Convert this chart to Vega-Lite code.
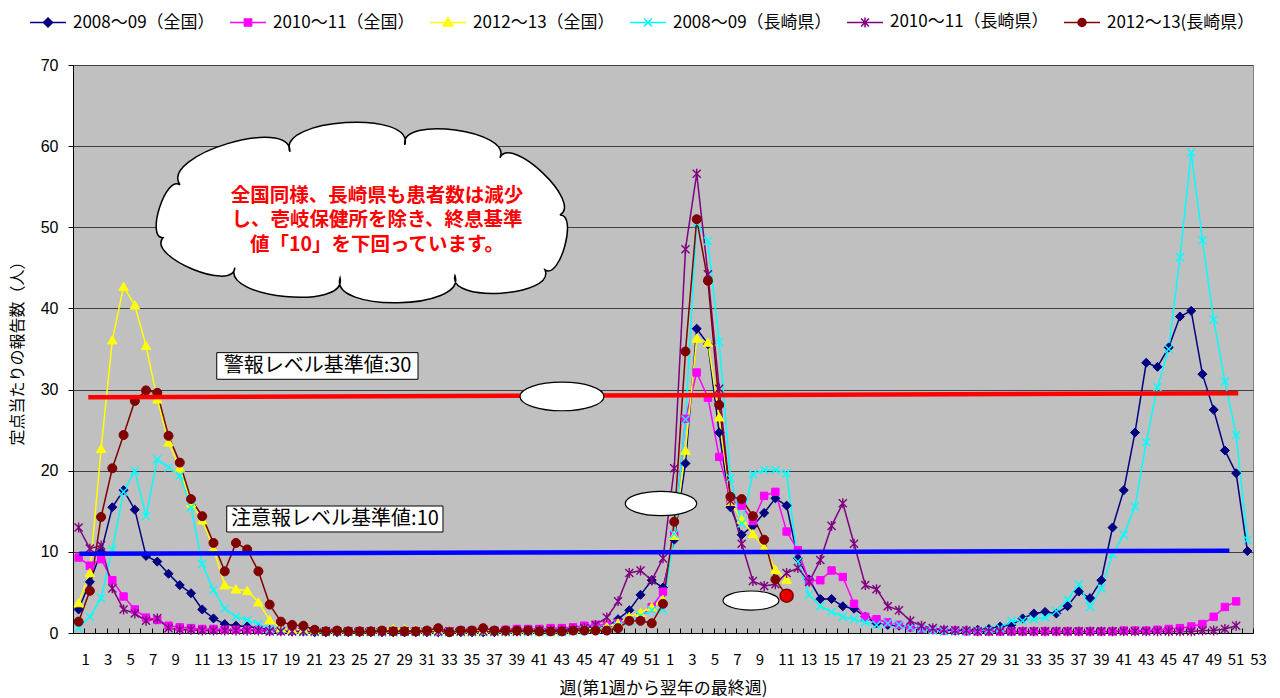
{
"$schema":"https://vega.github.io/schema/vega-lite/v6.json",
"width":1180,"height":568,
"autosize":{"type":"none"},
"padding":{"left":73,"top":65,"right":27,"bottom":65},
"background":"#FFFFFF",
"config":{"view":{"fill":"#C0C0C0","stroke":"#808080","strokeWidth":1},"font":"Noto Sans CJK JP"},
"datasets":{
"series":[{"s":"A","name":"2008～09（全国）"},{"s":"B","name":"2010～11（全国）"},{"s":"C","name":"2012～13（全国）"},{"s":"D","name":"2008～09（長崎県）"},{"s":"E","name":"2010～11（長崎県）"},{"s":"F","name":"2012～13(長崎県）"}],
"flu":[
{"s":"A","i":1,"v":2.9},{"s":"A","i":2,"v":6.3},{"s":"A","i":3,"v":10.0},{"s":"A","i":4,"v":15.5},{"s":"A","i":5,"v":17.6},{"s":"A","i":6,"v":15.2},{"s":"A","i":7,"v":9.5},{"s":"A","i":8,"v":8.8},{"s":"A","i":9,"v":7.3},{"s":"A","i":10,"v":5.9},{"s":"A","i":11,"v":4.9},{"s":"A","i":12,"v":2.9},{"s":"A","i":13,"v":1.8},{"s":"A","i":14,"v":1.1},{"s":"A","i":15,"v":0.9},{"s":"A","i":16,"v":0.8},{"s":"A","i":17,"v":0.6},{"s":"A","i":18,"v":0.4},{"s":"A","i":19,"v":0.3},{"s":"A","i":20,"v":0.2},{"s":"A","i":21,"v":0.2},{"s":"A","i":22,"v":0.1},{"s":"A","i":23,"v":0.1},{"s":"A","i":24,"v":0.1},{"s":"A","i":25,"v":0.1},{"s":"A","i":26,"v":0.1},{"s":"A","i":27,"v":0.1},{"s":"A","i":28,"v":0.1},{"s":"A","i":29,"v":0.1},{"s":"A","i":30,"v":0.1},{"s":"A","i":31,"v":0.1},{"s":"A","i":32,"v":0.1},{"s":"A","i":33,"v":0.1},{"s":"A","i":34,"v":0.1},{"s":"A","i":35,"v":0.1},{"s":"A","i":36,"v":0.1},{"s":"A","i":37,"v":0.1},{"s":"A","i":38,"v":0.1},{"s":"A","i":39,"v":0.2},{"s":"A","i":40,"v":0.2},{"s":"A","i":41,"v":0.2},{"s":"A","i":42,"v":0.3},{"s":"A","i":43,"v":0.3},{"s":"A","i":44,"v":0.4},{"s":"A","i":45,"v":0.5},{"s":"A","i":46,"v":0.6},{"s":"A","i":47,"v":0.7},{"s":"A","i":48,"v":0.8},{"s":"A","i":49,"v":1.7},{"s":"A","i":50,"v":2.8},{"s":"A","i":51,"v":4.7},{"s":"A","i":52,"v":6.5},{"s":"A","i":53,"v":5.6},{"s":"A","i":54,"v":11.5},{"s":"A","i":55,"v":20.9},{"s":"A","i":56,"v":37.5},{"s":"A","i":57,"v":35.6},{"s":"A","i":58,"v":24.7},{"s":"A","i":59,"v":15.5},{"s":"A","i":60,"v":12.1},{"s":"A","i":61,"v":13.2},{"s":"A","i":62,"v":14.8},{"s":"A","i":63,"v":16.6},{"s":"A","i":64,"v":15.7},{"s":"A","i":65,"v":9.2},{"s":"A","i":66,"v":6.6},{"s":"A","i":67,"v":4.2},{"s":"A","i":68,"v":4.2},{"s":"A","i":69,"v":3.3},{"s":"A","i":70,"v":3.0},{"s":"A","i":71,"v":2.0},{"s":"A","i":72,"v":1.2},{"s":"A","i":73,"v":1.0},{"s":"A","i":74,"v":0.9},{"s":"A","i":75,"v":0.7},{"s":"A","i":76,"v":0.5},{"s":"A","i":77,"v":0.4},{"s":"A","i":78,"v":0.3},{"s":"A","i":79,"v":0.3},{"s":"A","i":80,"v":0.3},{"s":"A","i":81,"v":0.4},{"s":"A","i":82,"v":0.5},{"s":"A","i":83,"v":0.8},{"s":"A","i":84,"v":1.0},{"s":"A","i":85,"v":1.8},{"s":"A","i":86,"v":2.4},{"s":"A","i":87,"v":2.6},{"s":"A","i":88,"v":2.4},{"s":"A","i":89,"v":3.3},{"s":"A","i":90,"v":5.1},{"s":"A","i":91,"v":4.3},{"s":"A","i":92,"v":6.5},{"s":"A","i":93,"v":13.0},{"s":"A","i":94,"v":17.6},{"s":"A","i":95,"v":24.7},{"s":"A","i":96,"v":33.3},{"s":"A","i":97,"v":32.8},{"s":"A","i":98,"v":35.2},{"s":"A","i":99,"v":39.0},{"s":"A","i":100,"v":39.7},{"s":"A","i":101,"v":31.9},{"s":"A","i":102,"v":27.5},{"s":"A","i":103,"v":22.5},{"s":"A","i":104,"v":19.7},{"s":"A","i":105,"v":10.1},
{"s":"B","i":1,"v":9.3},{"s":"B","i":2,"v":8.3},{"s":"B","i":3,"v":9.1},{"s":"B","i":4,"v":6.5},{"s":"B","i":5,"v":4.5},{"s":"B","i":6,"v":2.9},{"s":"B","i":7,"v":1.9},{"s":"B","i":8,"v":1.6},{"s":"B","i":9,"v":0.9},{"s":"B","i":10,"v":0.7},{"s":"B","i":11,"v":0.6},{"s":"B","i":12,"v":0.5},{"s":"B","i":13,"v":0.5},{"s":"B","i":14,"v":0.4},{"s":"B","i":15,"v":0.4},{"s":"B","i":16,"v":0.4},{"s":"B","i":17,"v":0.4},{"s":"B","i":18,"v":0.3},{"s":"B","i":19,"v":0.3},{"s":"B","i":20,"v":0.3},{"s":"B","i":21,"v":0.3},{"s":"B","i":22,"v":0.3},{"s":"B","i":23,"v":0.2},{"s":"B","i":24,"v":0.2},{"s":"B","i":25,"v":0.2},{"s":"B","i":26,"v":0.2},{"s":"B","i":27,"v":0.2},{"s":"B","i":28,"v":0.2},{"s":"B","i":29,"v":0.2},{"s":"B","i":30,"v":0.2},{"s":"B","i":31,"v":0.2},{"s":"B","i":32,"v":0.2},{"s":"B","i":33,"v":0.2},{"s":"B","i":34,"v":0.2},{"s":"B","i":35,"v":0.3},{"s":"B","i":36,"v":0.3},{"s":"B","i":37,"v":0.3},{"s":"B","i":38,"v":0.3},{"s":"B","i":39,"v":0.4},{"s":"B","i":40,"v":0.5},{"s":"B","i":41,"v":0.5},{"s":"B","i":42,"v":0.5},{"s":"B","i":43,"v":0.6},{"s":"B","i":44,"v":0.6},{"s":"B","i":45,"v":0.7},{"s":"B","i":46,"v":0.9},{"s":"B","i":47,"v":1.0},{"s":"B","i":48,"v":1.0},{"s":"B","i":49,"v":1.2},{"s":"B","i":50,"v":1.5},{"s":"B","i":51,"v":2.0},{"s":"B","i":52,"v":3.2},{"s":"B","i":53,"v":5.1},{"s":"B","i":54,"v":12.1},{"s":"B","i":55,"v":26.4},{"s":"B","i":56,"v":32.1},{"s":"B","i":57,"v":29.0},{"s":"B","i":58,"v":21.7},{"s":"B","i":59,"v":16.4},{"s":"B","i":60,"v":15.7},{"s":"B","i":61,"v":13.8},{"s":"B","i":62,"v":16.9},{"s":"B","i":63,"v":17.4},{"s":"B","i":64,"v":12.5},{"s":"B","i":65,"v":10.2},{"s":"B","i":66,"v":6.4},{"s":"B","i":67,"v":6.5},{"s":"B","i":68,"v":7.7},{"s":"B","i":69,"v":6.9},{"s":"B","i":70,"v":3.6},{"s":"B","i":71,"v":2.0},{"s":"B","i":72,"v":1.7},{"s":"B","i":73,"v":1.3},{"s":"B","i":74,"v":1.0},{"s":"B","i":75,"v":0.7},{"s":"B","i":76,"v":0.5},{"s":"B","i":77,"v":0.4},{"s":"B","i":78,"v":0.3},{"s":"B","i":79,"v":0.3},{"s":"B","i":80,"v":0.2},{"s":"B","i":81,"v":0.2},{"s":"B","i":82,"v":0.2},{"s":"B","i":83,"v":0.2},{"s":"B","i":84,"v":0.2},{"s":"B","i":85,"v":0.2},{"s":"B","i":86,"v":0.2},{"s":"B","i":87,"v":0.2},{"s":"B","i":88,"v":0.2},{"s":"B","i":89,"v":0.2},{"s":"B","i":90,"v":0.2},{"s":"B","i":91,"v":0.2},{"s":"B","i":92,"v":0.2},{"s":"B","i":93,"v":0.2},{"s":"B","i":94,"v":0.3},{"s":"B","i":95,"v":0.3},{"s":"B","i":96,"v":0.3},{"s":"B","i":97,"v":0.4},{"s":"B","i":98,"v":0.5},{"s":"B","i":99,"v":0.6},{"s":"B","i":100,"v":0.8},{"s":"B","i":101,"v":1.1},{"s":"B","i":102,"v":2.0},{"s":"B","i":103,"v":3.2},{"s":"B","i":104,"v":3.9},
{"s":"C","i":1,"v":3.7},{"s":"C","i":2,"v":7.4},{"s":"C","i":3,"v":22.7},{"s":"C","i":4,"v":36.1},{"s":"C","i":5,"v":42.7},{"s":"C","i":6,"v":40.4},{"s":"C","i":7,"v":35.4},{"s":"C","i":8,"v":28.8},{"s":"C","i":9,"v":23.5},{"s":"C","i":10,"v":20.3},{"s":"C","i":11,"v":16.0},{"s":"C","i":12,"v":13.9},{"s":"C","i":13,"v":10.4},{"s":"C","i":14,"v":5.9},{"s":"C","i":15,"v":5.4},{"s":"C","i":16,"v":5.2},{"s":"C","i":17,"v":3.8},{"s":"C","i":18,"v":1.6},{"s":"C","i":19,"v":0.6},{"s":"C","i":20,"v":0.4},{"s":"C","i":21,"v":0.4},{"s":"C","i":22,"v":0.3},{"s":"C","i":23,"v":0.3},{"s":"C","i":24,"v":0.3},{"s":"C","i":25,"v":0.3},{"s":"C","i":26,"v":0.3},{"s":"C","i":27,"v":0.3},{"s":"C","i":28,"v":0.4},{"s":"C","i":29,"v":0.5},{"s":"C","i":30,"v":0.5},{"s":"C","i":31,"v":0.4},{"s":"C","i":32,"v":0.3},{"s":"C","i":33,"v":0.3},{"s":"C","i":34,"v":0.3},{"s":"C","i":35,"v":0.3},{"s":"C","i":36,"v":0.3},{"s":"C","i":37,"v":0.3},{"s":"C","i":38,"v":0.3},{"s":"C","i":39,"v":0.3},{"s":"C","i":40,"v":0.3},{"s":"C","i":41,"v":0.3},{"s":"C","i":42,"v":0.3},{"s":"C","i":43,"v":0.3},{"s":"C","i":44,"v":0.3},{"s":"C","i":45,"v":0.4},{"s":"C","i":46,"v":0.5},{"s":"C","i":47,"v":0.6},{"s":"C","i":48,"v":0.8},{"s":"C","i":49,"v":1.2},{"s":"C","i":50,"v":2.0},{"s":"C","i":51,"v":2.5},{"s":"C","i":52,"v":3.2},{"s":"C","i":53,"v":4.1},{"s":"C","i":54,"v":12.0},{"s":"C","i":55,"v":22.5},{"s":"C","i":56,"v":36.3},{"s":"C","i":57,"v":35.8},{"s":"C","i":58,"v":26.6},{"s":"C","i":59,"v":16.2},{"s":"C","i":60,"v":14.0},{"s":"C","i":61,"v":12.2},{"s":"C","i":62,"v":10.5},{"s":"C","i":63,"v":7.8},{"s":"C","i":64,"v":6.6},
{"s":"D","i":1,"v":0.6},{"s":"D","i":2,"v":2.0},{"s":"D","i":3,"v":4.3},{"s":"D","i":4,"v":10.3},{"s":"D","i":5,"v":17.4},{"s":"D","i":6,"v":20.0},{"s":"D","i":7,"v":14.4},{"s":"D","i":8,"v":21.4},{"s":"D","i":9,"v":20.4},{"s":"D","i":10,"v":19.4},{"s":"D","i":11,"v":15.5},{"s":"D","i":12,"v":8.5},{"s":"D","i":13,"v":5.3},{"s":"D","i":14,"v":3.0},{"s":"D","i":15,"v":2.0},{"s":"D","i":16,"v":1.6},{"s":"D","i":17,"v":1.1},{"s":"D","i":18,"v":0.5},{"s":"D","i":19,"v":0.3},{"s":"D","i":20,"v":0.2},{"s":"D","i":21,"v":0.1},{"s":"D","i":22,"v":0.1},{"s":"D","i":23,"v":0.1},{"s":"D","i":24,"v":0.1},{"s":"D","i":25,"v":0.1},{"s":"D","i":26,"v":0.1},{"s":"D","i":27,"v":0.1},{"s":"D","i":28,"v":0.1},{"s":"D","i":29,"v":0.1},{"s":"D","i":30,"v":0.1},{"s":"D","i":31,"v":0.1},{"s":"D","i":32,"v":0.1},{"s":"D","i":33,"v":0.1},{"s":"D","i":34,"v":0.1},{"s":"D","i":35,"v":0.1},{"s":"D","i":36,"v":0.1},{"s":"D","i":37,"v":0.1},{"s":"D","i":38,"v":0.1},{"s":"D","i":39,"v":0.1},{"s":"D","i":40,"v":0.1},{"s":"D","i":41,"v":0.1},{"s":"D","i":42,"v":0.1},{"s":"D","i":43,"v":0.1},{"s":"D","i":44,"v":0.1},{"s":"D","i":45,"v":0.2},{"s":"D","i":46,"v":0.3},{"s":"D","i":47,"v":0.4},{"s":"D","i":48,"v":0.5},{"s":"D","i":49,"v":0.9},{"s":"D","i":50,"v":1.4},{"s":"D","i":51,"v":2.1},{"s":"D","i":52,"v":2.8},{"s":"D","i":53,"v":2.9},{"s":"D","i":54,"v":12.2},{"s":"D","i":55,"v":26.3},{"s":"D","i":56,"v":50.5},{"s":"D","i":57,"v":48.3},{"s":"D","i":58,"v":35.9},{"s":"D","i":59,"v":19.1},{"s":"D","i":60,"v":13.5},{"s":"D","i":61,"v":19.6},{"s":"D","i":62,"v":20.1},{"s":"D","i":63,"v":20.1},{"s":"D","i":64,"v":19.7},{"s":"D","i":65,"v":8.8},{"s":"D","i":66,"v":4.7},{"s":"D","i":67,"v":3.3},{"s":"D","i":68,"v":2.6},{"s":"D","i":69,"v":2.0},{"s":"D","i":70,"v":1.7},{"s":"D","i":71,"v":1.3},{"s":"D","i":72,"v":1.0},{"s":"D","i":73,"v":1.2},{"s":"D","i":74,"v":1.0},{"s":"D","i":75,"v":0.7},{"s":"D","i":76,"v":0.5},{"s":"D","i":77,"v":0.3},{"s":"D","i":78,"v":0.2},{"s":"D","i":79,"v":0.2},{"s":"D","i":80,"v":0.2},{"s":"D","i":81,"v":0.3},{"s":"D","i":82,"v":0.4},{"s":"D","i":83,"v":0.6},{"s":"D","i":84,"v":1.5},{"s":"D","i":85,"v":1.5},{"s":"D","i":86,"v":1.7},{"s":"D","i":87,"v":1.9},{"s":"D","i":88,"v":2.7},{"s":"D","i":89,"v":4.1},{"s":"D","i":90,"v":6.0},{"s":"D","i":91,"v":3.2},{"s":"D","i":92,"v":5.5},{"s":"D","i":93,"v":9.7},{"s":"D","i":94,"v":12.1},{"s":"D","i":95,"v":15.6},{"s":"D","i":96,"v":23.5},{"s":"D","i":97,"v":30.3},{"s":"D","i":98,"v":35.0},{"s":"D","i":99,"v":46.3},{"s":"D","i":100,"v":59.2},{"s":"D","i":101,"v":48.4},{"s":"D","i":102,"v":38.6},{"s":"D","i":103,"v":31.0},{"s":"D","i":104,"v":24.4},{"s":"D","i":105,"v":11.5},
{"s":"E","i":1,"v":13.0},{"s":"E","i":2,"v":10.4},{"s":"E","i":3,"v":10.8},{"s":"E","i":4,"v":5.5},{"s":"E","i":5,"v":2.9},{"s":"E","i":6,"v":2.4},{"s":"E","i":7,"v":1.5},{"s":"E","i":8,"v":1.8},{"s":"E","i":9,"v":0.6},{"s":"E","i":10,"v":0.4},{"s":"E","i":11,"v":0.4},{"s":"E","i":12,"v":0.3},{"s":"E","i":13,"v":0.3},{"s":"E","i":14,"v":0.3},{"s":"E","i":15,"v":0.3},{"s":"E","i":16,"v":0.3},{"s":"E","i":17,"v":0.3},{"s":"E","i":18,"v":0.2},{"s":"E","i":19,"v":0.2},{"s":"E","i":20,"v":0.2},{"s":"E","i":21,"v":0.2},{"s":"E","i":22,"v":0.2},{"s":"E","i":23,"v":0.2},{"s":"E","i":24,"v":0.2},{"s":"E","i":25,"v":0.2},{"s":"E","i":26,"v":0.2},{"s":"E","i":27,"v":0.2},{"s":"E","i":28,"v":0.2},{"s":"E","i":29,"v":0.2},{"s":"E","i":30,"v":0.2},{"s":"E","i":31,"v":0.2},{"s":"E","i":32,"v":0.2},{"s":"E","i":33,"v":0.2},{"s":"E","i":34,"v":0.2},{"s":"E","i":35,"v":0.2},{"s":"E","i":36,"v":0.2},{"s":"E","i":37,"v":0.2},{"s":"E","i":38,"v":0.2},{"s":"E","i":39,"v":0.2},{"s":"E","i":40,"v":0.2},{"s":"E","i":41,"v":0.3},{"s":"E","i":42,"v":0.3},{"s":"E","i":43,"v":0.3},{"s":"E","i":44,"v":0.3},{"s":"E","i":45,"v":0.4},{"s":"E","i":46,"v":0.6},{"s":"E","i":47,"v":1.0},{"s":"E","i":48,"v":1.9},{"s":"E","i":49,"v":3.9},{"s":"E","i":50,"v":7.4},{"s":"E","i":51,"v":7.7},{"s":"E","i":52,"v":6.5},{"s":"E","i":53,"v":9.2},{"s":"E","i":54,"v":20.3},{"s":"E","i":55,"v":47.3},{"s":"E","i":56,"v":56.6},{"s":"E","i":57,"v":44.2},{"s":"E","i":58,"v":30.1},{"s":"E","i":59,"v":16.3},{"s":"E","i":60,"v":11.0},{"s":"E","i":61,"v":6.4},{"s":"E","i":62,"v":5.8},{"s":"E","i":63,"v":6.0},{"s":"E","i":64,"v":7.4},{"s":"E","i":65,"v":8.0},{"s":"E","i":66,"v":6.3},{"s":"E","i":67,"v":9.0},{"s":"E","i":68,"v":13.2},{"s":"E","i":69,"v":16.0},{"s":"E","i":70,"v":11.0},{"s":"E","i":71,"v":5.9},{"s":"E","i":72,"v":5.4},{"s":"E","i":73,"v":3.3},{"s":"E","i":74,"v":2.8},{"s":"E","i":75,"v":1.5},{"s":"E","i":76,"v":0.9},{"s":"E","i":77,"v":0.6},{"s":"E","i":78,"v":0.4},{"s":"E","i":79,"v":0.3},{"s":"E","i":80,"v":0.3},{"s":"E","i":81,"v":0.2},{"s":"E","i":82,"v":0.2},{"s":"E","i":83,"v":0.2},{"s":"E","i":84,"v":0.2},{"s":"E","i":85,"v":0.2},{"s":"E","i":86,"v":0.2},{"s":"E","i":87,"v":0.2},{"s":"E","i":88,"v":0.2},{"s":"E","i":89,"v":0.2},{"s":"E","i":90,"v":0.2},{"s":"E","i":91,"v":0.2},{"s":"E","i":92,"v":0.2},{"s":"E","i":93,"v":0.2},{"s":"E","i":94,"v":0.2},{"s":"E","i":95,"v":0.2},{"s":"E","i":96,"v":0.2},{"s":"E","i":97,"v":0.2},{"s":"E","i":98,"v":0.2},{"s":"E","i":99,"v":0.2},{"s":"E","i":100,"v":0.2},{"s":"E","i":101,"v":0.3},{"s":"E","i":102,"v":0.3},{"s":"E","i":103,"v":0.5},{"s":"E","i":104,"v":0.9},
{"s":"F","i":1,"v":1.4},{"s":"F","i":2,"v":5.2},{"s":"F","i":3,"v":14.3},{"s":"F","i":4,"v":20.3},{"s":"F","i":5,"v":24.4},{"s":"F","i":6,"v":28.6},{"s":"F","i":7,"v":29.9},{"s":"F","i":8,"v":29.6},{"s":"F","i":9,"v":24.3},{"s":"F","i":10,"v":21.0},{"s":"F","i":11,"v":16.5},{"s":"F","i":12,"v":14.4},{"s":"F","i":13,"v":11.1},{"s":"F","i":14,"v":7.6},{"s":"F","i":15,"v":11.1},{"s":"F","i":16,"v":10.3},{"s":"F","i":17,"v":7.6},{"s":"F","i":18,"v":3.5},{"s":"F","i":19,"v":1.4},{"s":"F","i":20,"v":1.0},{"s":"F","i":21,"v":0.9},{"s":"F","i":22,"v":0.4},{"s":"F","i":23,"v":0.2},{"s":"F","i":24,"v":0.3},{"s":"F","i":25,"v":0.2},{"s":"F","i":26,"v":0.2},{"s":"F","i":27,"v":0.2},{"s":"F","i":28,"v":0.3},{"s":"F","i":29,"v":0.2},{"s":"F","i":30,"v":0.2},{"s":"F","i":31,"v":0.2},{"s":"F","i":32,"v":0.3},{"s":"F","i":33,"v":0.6},{"s":"F","i":34,"v":0.1},{"s":"F","i":35,"v":0.3},{"s":"F","i":36,"v":0.3},{"s":"F","i":37,"v":0.6},{"s":"F","i":38,"v":0.3},{"s":"F","i":39,"v":0.3},{"s":"F","i":40,"v":0.3},{"s":"F","i":41,"v":0.3},{"s":"F","i":42,"v":0.2},{"s":"F","i":43,"v":0.2},{"s":"F","i":44,"v":0.2},{"s":"F","i":45,"v":0.3},{"s":"F","i":46,"v":0.3},{"s":"F","i":47,"v":0.3},{"s":"F","i":48,"v":0.3},{"s":"F","i":49,"v":0.6},{"s":"F","i":50,"v":1.5},{"s":"F","i":51,"v":1.5},{"s":"F","i":52,"v":1.2},{"s":"F","i":53,"v":3.6},{"s":"F","i":54,"v":13.7},{"s":"F","i":55,"v":34.7},{"s":"F","i":56,"v":51.0},{"s":"F","i":57,"v":43.4},{"s":"F","i":58,"v":28.1},{"s":"F","i":59,"v":16.8},{"s":"F","i":60,"v":16.5},{"s":"F","i":61,"v":14.4},{"s":"F","i":62,"v":11.5},{"s":"F","i":63,"v":6.6},{"s":"F","i":64,"v":4.6}
]
},
"encoding":{
"x":{"field":"i","type":"quantitative","scale":{"domain":[0.5,105.5],"nice":false,"zero":false},
"axis":{"values":[0.5,1.5,2.5,3.5,4.5,5.5,6.5,7.5,8.5,9.5,10.5,11.5,12.5,13.5,14.5,15.5,16.5,17.5,18.5,19.5,20.5,21.5,22.5,23.5,24.5,25.5,26.5,27.5,28.5,29.5,30.5,31.5,32.5,33.5,34.5,35.5,36.5,37.5,38.5,39.5,40.5,41.5,42.5,43.5,44.5,45.5,46.5,47.5,48.5,49.5,50.5,51.5,52.5,53.5,54.5,55.5,56.5,57.5,58.5,59.5,60.5,61.5,62.5,63.5,64.5,65.5,66.5,67.5,68.5,69.5,70.5,71.5,72.5,73.5,74.5,75.5,76.5,77.5,78.5,79.5,80.5,81.5,82.5,83.5,84.5,85.5,86.5,87.5,88.5,89.5,90.5,91.5,92.5,93.5,94.5,95.5,96.5,97.5,98.5,99.5,100.5,101.5,102.5,103.5,104.5,105.5],
"labelExpr":"(datum.value+0.5)%2==1 && datum.value<105 ? ((datum.value+0.5)<=52 ? (datum.value+0.5)+'' : (datum.value-51.5)+'') : ''",
"title":"週(第1週から翌年の最終週)","grid":false,"domainColor":"#000000","domainWidth":1,"tickColor":"#000000","tickSize":-5,"tickWidth":1,
"labelAlign":"left","labelOffset":8,"labelBaseline":"top","labelPadding":24,"labelOverlap":false,"labelFlush":false,"labelBound":false,
"labelFont":"Noto Sans CJK JP","labelFontSize":15,"labelColor":"#000000",
"titleFont":"Noto Sans CJK JP","titleFontSize":17,"titleFontWeight":"normal","titleColor":"#000000","titleY":55,"titleBaseline":"middle"}},
"y":{"field":"v","type":"quantitative","scale":{"domain":[0,70],"nice":false},
"axis":{"values":[0,10,20,30,40,50,60,70],"title":"定点当たりの報告数（人）","grid":true,"gridColor":"#404040","gridWidth":1,"domainColor":"#000000","tickColor":"#000000","tickSize":5,
"labelFont":"Liberation Sans","labelFontSize":16,"labelColor":"#000000","labelPadding":10,
"titleFont":"Noto Sans CJK JP","titleFontSize":16,"titleFontWeight":"normal","titleColor":"#000000","titleX":-56,"titleY":284,"titleAngle":270,"titleAlign":"center","titleBaseline":"middle"}}
},
"layer":[
{
"data":{"name":"flu"},
"transform":[{"lookup":"s","from":{"data":{"name":"series"},"key":"s","fields":["name"]}}],
"mark":{"type":"line","strokeWidth":1.5},
"encoding":{
"color":{"field":"name","type":"nominal",
"scale":{"domain":["2008～09（全国）","2010～11（全国）","2012～13（全国）","2008～09（長崎県）","2010～11（長崎県）","2012～13(長崎県）"],"range":["#000080","#FF00FF","#FFFF00","#00FFFF","#800080","#800000"]},
"legend":{"title":null,"orient":"none","legendX":-44,"legendY":-62,"direction":"horizontal","columns":6,"columnPadding":12,"padding":0,
"symbolSize":1296,"symbolStrokeWidth":1.5,"labelFont":"Noto Sans CJK JP","labelFontSize":17,"labelColor":"#000000","labelOffset":6,"labelLimit":400,
"encode":{"symbols":{"update":{
"shape":{"signal":"['M-1,0L1,0M0,-0.25L0.25,0L0,0.25L-0.25,0Z','M-1,0L1,0M-0.2,-0.2L0.2,-0.2L0.2,0.2L-0.2,0.2Z','M-1,0L1,0M0,-0.26L0.27,0.2L-0.27,0.2Z','M-1,0L1,0M-0.22,-0.22L0.22,0.22M-0.22,0.22L0.22,-0.22','M-1,0L1,0M-0.22,-0.22L0.22,0.22M-0.22,0.22L0.22,-0.22M0,-0.28L0,0.28','M-1,0L1,0M-0.22,0C-0.22,-0.12,-0.12,-0.22,0,-0.22C0.12,-0.22,0.22,-0.12,0.22,0C0.22,0.12,0.12,0.22,0,0.22C-0.12,0.22,-0.22,0.12,-0.22,0Z'][indexof(domain('color'), datum.value)]"},
"fill":{"signal":"scale('color', datum.value)"},
"stroke":{"signal":"scale('color', datum.value)"},
"opacity":{"value":1}}}}}}
}
},
{"data":{"name":"flu"},"transform":[{"filter":"datum.s==='A'"}],"mark":{"type":"point","shape":"M0,-0.95L0.95,0L0,0.95L-0.95,0Z","filled":true,"fill":"#000080","stroke":"#000080","strokeWidth":1,"size":90,"opacity":1}},
{"data":{"name":"flu"},"transform":[{"filter":"datum.s==='B'"}],"mark":{"type":"point","shape":"M-0.78,-0.78L0.78,-0.78L0.78,0.78L-0.78,0.78Z","filled":true,"fill":"#FF00FF","stroke":"#FF00FF","strokeWidth":1,"size":90,"opacity":1}},
{"data":{"name":"flu"},"transform":[{"filter":"datum.s==='C'"}],"mark":{"type":"point","shape":"M0,-0.95L1,0.8L-1,0.8Z","filled":true,"fill":"#FFFF00","stroke":"#FFFF00","strokeWidth":1,"size":90,"opacity":1}},
{"data":{"name":"flu"},"transform":[{"filter":"datum.s==='D'"}],"mark":{"type":"point","shape":"M-0.85,-0.85L0.85,0.85M-0.85,0.85L0.85,-0.85","filled":false,"stroke":"#00FFFF","strokeWidth":1.4,"size":90,"opacity":1}},
{"data":{"name":"flu"},"transform":[{"filter":"datum.s==='E'"}],"mark":{"type":"point","shape":"M-0.85,-0.85L0.85,0.85M-0.85,0.85L0.85,-0.85M0,-1.05L0,1.05","filled":false,"stroke":"#800080","strokeWidth":1.4,"size":90,"opacity":1}},
{"data":{"name":"flu"},"transform":[{"filter":"datum.s==='F'"}],"mark":{"type":"point","shape":"M-0.95,0C-0.95,-0.52,-0.52,-0.95,0,-0.95C0.52,-0.95,0.95,-0.52,0.95,0C0.95,0.52,0.52,0.95,0,0.95C-0.52,0.95,-0.95,0.52,-0.95,0Z","filled":true,"fill":"#800000","stroke":"#800000","strokeWidth":1,"size":90,"opacity":1}},
{"data":{"name":"flu"},"transform":[{"filter":"datum.s==='F' && datum.i===64"}],"mark":{"type":"point","shape":"circle","filled":true,"size":170,"fill":"#E60000","stroke":"#800000","strokeWidth":1.5,"opacity":1}},
{
"data":{"values":[{"i":1.86,"i2":104.19,"v":29.05,"v2":29.54}]},
"mark":{"type":"rule","color":"#FF0000","strokeWidth":4.5},
"encoding":{"x2":{"field":"i2"},"y2":{"field":"v2"}}
},
{
"data":{"values":[{"i":1.06,"i2":103.4,"v":9.77,"v2":10.14}]},
"mark":{"type":"rule","color":"#0000FF","strokeWidth":4.5},
"encoding":{"x2":{"field":"i2"},"y2":{"field":"v2"}}
},
{
"data":{"values":[{"i":13.29,"i2":31.2,"v":34.55,"v2":31.27},{"i":14.18,"i2":33.42,"v":15.65,"v2":12.45}]},
"mark":{"type":"rect","fill":"#FFFFFF","stroke":"#000000","strokeWidth":1},
"encoding":{"x2":{"field":"i2"},"y2":{"field":"v2"}}
},
{
"data":{"values":[{"i":22.26,"v":32.9,"t":"警報レベル基準値:30"},{"i":23.81,"v":13.99,"t":"注意報レベル基準値:10"}]},
"mark":{"type":"text","font":"Noto Sans CJK JP","fontSize":20,"color":"#000000","align":"center","baseline":"middle"},
"encoding":{"text":{"field":"t"}}
},
{
"data":{"values":[{"i":44.01,"v":29.15,"b":"L"},{"i":52.82,"v":15.96,"b":"M"},{"i":60.83,"v":4.0,"b":"S"}]},
"mark":{"type":"point","filled":true,"fill":"#FFFFFF","stroke":"#000000","strokeWidth":1.2,"opacity":1,"shape":"M-1,0C-1,-0.188,-0.552,-0.34,0,-0.34C0.552,-0.34,1,-0.188,1,0C1,0.188,0.552,0.34,0,0.34C-0.552,0.34,-1,0.188,-1,0Z"},
"encoding":{"size":{"field":"b","type":"ordinal","legend":null,"scale":{"domain":["L","M","S"],"range":[7056,3136,784]}}}
},
{
"data":{"values":[{"i":26.3,"v":51.9}]},
"mark":{"type":"point","filled":true,"fill":"#FFFFFF","stroke":"#000000","strokeWidth":1.5,"opacity":1,"size":186624,
"shape":"M-0.926,0.12C-1.007,0.121,-0.913,-0.173,-0.847,-0.125C-0.944,-0.262,-0.333,-0.446,-0.338,-0.278C-0.401,-0.434,0.238,-0.473,0.194,-0.31C0.168,-0.448,0.696,-0.376,0.634,-0.25C0.685,-0.36,1.019,-0.043,0.912,0.014C0.995,0.009,0.913,0.315,0.843,0.269C0.893,0.391,0.392,0.424,0.426,0.296C0.482,0.455,-0.156,0.467,-0.106,0.306C-0.071,0.457,-0.656,0.4,-0.593,0.259C-0.601,0.373,-1.001,0.206,-0.926,0.12Z"}
},
{
"data":{"values":[{"i":27.55,"v":53.86,"t":"全国同様、長崎県も患者数は減少\nし、壱岐保健所を除き、終息基準\n値「10」を下回っています。"}]},
"mark":{"type":"text","font":"Noto Sans CJK JP","fontSize":19.5,"fontWeight":"bold","color":"#FF0000","align":"center","baseline":"middle","lineBreak":"\n","lineHeight":24.5},
"encoding":{"text":{"field":"t"}}
}
]
}
